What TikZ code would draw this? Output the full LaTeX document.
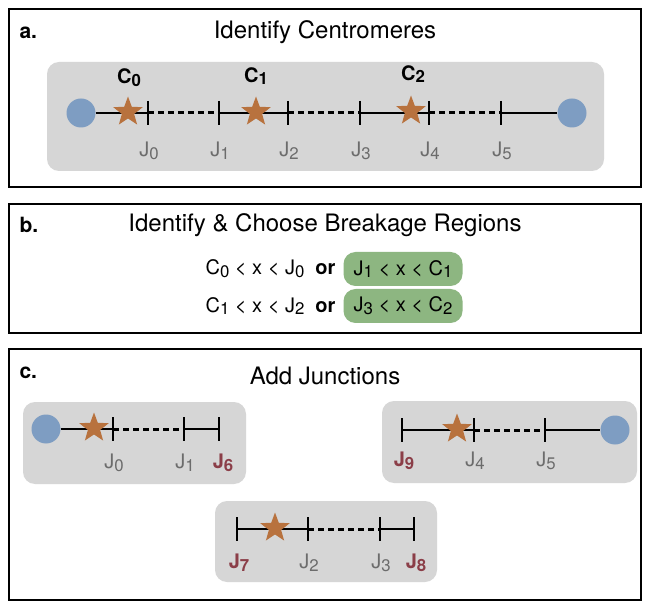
\documentclass[tikz,border=0pt]{standalone}
\usepackage{fontspec}
\setmainfont{TeX Gyre Heros}
\usetikzlibrary{shapes.geometric}
\definecolor{boxgray}{RGB}{214,214,214}
\definecolor{cblue}{RGB}{126,157,194}
\definecolor{cstar}{RGB}{184,114,62}
\definecolor{cgreen}{RGB}{141,182,129}
\definecolor{jgray}{RGB}{108,108,108}
\definecolor{jred}{RGB}{139,62,72}
\newcommand{\sbs}[1]{\raisebox{-0.14em}{\scalebox{0.84}{#1}}}
\begin{document}
\begin{tikzpicture}[x=1pt,y=-1pt,
 frame/.style={draw=black, line width=2pt},
 graybox/.style={fill=boxgray, rounded corners=12pt},
 cen/.style={circle, fill=cblue, minimum size=29pt, inner sep=0pt},
 centro/.style={star, star points=5, star point ratio=2.4, fill=cstar, minimum size=31pt, inner sep=0pt},
 solidseg/.style={line width=2pt},
 dashseg/.style={line width=3pt, dash pattern=on 6pt off 4pt},
 tickmark/.style={line width=2pt},
 jlab/.style={text=jgray, font=\fontsize{20}{22}\selectfont},
 newlab/.style={text=jred, font=\bfseries\fontsize{20}{22}\selectfont},
 clab/.style={font=\bfseries\fontsize{20}{22}\selectfont},
 title/.style={font=\fontsize{24}{28}\selectfont},
 plabel/.style={font=\bfseries\fontsize{21}{23}\selectfont, anchor=west},
 formula/.style={font=\fontsize{20}{23}\selectfont},
 greenbox/.style={fill=cgreen, rounded corners=12pt, minimum height=34pt, minimum width=119pt, inner sep=0pt, font=\fontsize{20}{23}\selectfont}
]
\useasboundingbox (0,0) rectangle (650,609);
\fill[white] (0,0) rectangle (650,609);

% ---------- panel a ----------
\draw[frame] (9,9) rectangle (641,187);
\node[plabel] (la) at (16,33) {a.};
\node[title] (ta) at (325,32) {Identify Centromeres};
\fill[graybox] (47,62) rectangle (604,171);
\node[cen] (acl) at (81,113) {};
\node[cen] (acr) at (572,113) {};
\coordinate (aj0) at (148,113);
\coordinate (aj1) at (219,113);
\coordinate (aj2) at (288,113);
\coordinate (aj3) at (360,113);
\coordinate (aj4) at (429,113);
\coordinate (aj5) at (501,113);
\draw[solidseg] (acl) -- (aj0);
\draw[dashseg] (aj0) -- (aj1);
\draw[solidseg] (aj1) -- (aj2);
\draw[dashseg] (aj2) -- (aj3);
\draw[solidseg] (aj3) -- (aj4);
\draw[dashseg] (aj4) -- (aj5);
\draw[solidseg] (aj5) -- (acr);
\foreach \t in {aj0,aj1,aj2,aj3,aj4,aj5}{\draw[tickmark] (\t) ++(0,-12) -- ++(0,24);}
\node[centro] (ac0) at (128,112) {};
\node[centro] (ac1) at (256,112) {};
\node[centro] (ac2) at (411,111) {};
\node[clab] (lc0) at (129,78) {C\sbs0};
\node[clab] (lc1) at (256,76) {C\sbs1};
\node[clab] (lc2) at (413,74) {C\sbs2};
\node[jlab] (lj0) at (149,151) {J\sbs0};
\node[jlab] (lj1) at (220,151) {J\sbs1};
\node[jlab] (lj2) at (289,151) {J\sbs2};
\node[jlab] (lj3) at (361,151) {J\sbs3};
\node[jlab] (lj4) at (430,151) {J\sbs4};
\node[jlab] (lj5) at (502,151) {J\sbs5};

% ---------- panel b ----------
\draw[frame] (9,204) rectangle (641,333);
\node[plabel] (lb) at (16,225) {b.};
\node[title] (tb) at (325,225) {Identify \& Choose Breakage Regions};
\node[greenbox] (g1) at (403,269) {J\sbs1 < x < C\sbs1};
\node[greenbox] (g2) at (403,306) {J\sbs3 < x < C\sbs2};
\node[formula, anchor=east] (f1) at (339,269) {C\sbs0 < x < J\sbs0 \ \textbf{or}};
\node[formula, anchor=east] (f2) at (339,306) {C\sbs1 < x < J\sbs2 \ \textbf{or}};

% ---------- panel c ----------
\draw[frame] (9,349) rectangle (641,600);
\node[plabel] (lcc) at (16,373) {c.};
\node[title] (tc) at (325,376) {Add Junctions};

% left fragment
\fill[graybox] (23,402) rectangle (246,484);
\node[cen] (lcl) at (46,429) {};
\coordinate (lj0c) at (113,429);
\coordinate (lj1c) at (184,429);
\coordinate (lj6c) at (219,429);
\draw[solidseg] (lcl) -- (lj0c);
\draw[dashseg] (lj0c) -- (lj1c);
\draw[solidseg] (lj1c) -- (lj6c);
\foreach \t in {lj0c,lj1c,lj6c}{\draw[tickmark] (\t) ++(0,-12) -- ++(0,24);}
\node[centro] (lst) at (94,428) {};
\node[jlab] (llj0) at (114,463) {J\sbs0};
\node[jlab] (llj1) at (185,463) {J\sbs1};
\node[newlab] (llj6) at (223,463) {J\sbs6};

% right fragment
\fill[graybox] (382,401) rectangle (637,483);
\node[cen] (rcr) at (615,430) {};
\coordinate (rj9c) at (402,430);
\coordinate (rj4c) at (474,430);
\coordinate (rj5c) at (545,430);
\draw[solidseg] (rj9c) -- (rj4c);
\draw[dashseg] (rj4c) -- (rj5c);
\draw[solidseg] (rj5c) -- (rcr);
\foreach \t in {rj9c,rj4c,rj5c}{\draw[tickmark] (\t) ++(0,-12) -- ++(0,24);}
\node[centro] (rst) at (457,429) {};
\node[newlab] (rlj9) at (404,461) {J\sbs9};
\node[jlab] (rlj4) at (475,461) {J\sbs4};
\node[jlab] (rlj5) at (546,461) {J\sbs5};

% bottom fragment
\fill[graybox] (215,501) rectangle (437,582);
\coordinate (bj7c) at (237,529);
\coordinate (bj2c) at (308,529);
\coordinate (bj3c) at (380,529);
\coordinate (bj8c) at (414,529);
\draw[solidseg] (bj7c) -- (bj2c);
\draw[dashseg] (bj2c) -- (bj3c);
\draw[solidseg] (bj3c) -- (bj8c);
\foreach \t in {bj7c,bj2c,bj3c,bj8c}{\draw[tickmark] (\t) ++(0,-12) -- ++(0,24);}
\node[centro] (bst) at (275,528) {};
\node[newlab] (blj7) at (239,563) {J\sbs7};
\node[jlab] (blj2) at (309,563) {J\sbs2};
\node[jlab] (blj3) at (381,563) {J\sbs3};
\node[newlab] (blj8) at (416,563) {J\sbs8};
\end{tikzpicture}
\end{document}
